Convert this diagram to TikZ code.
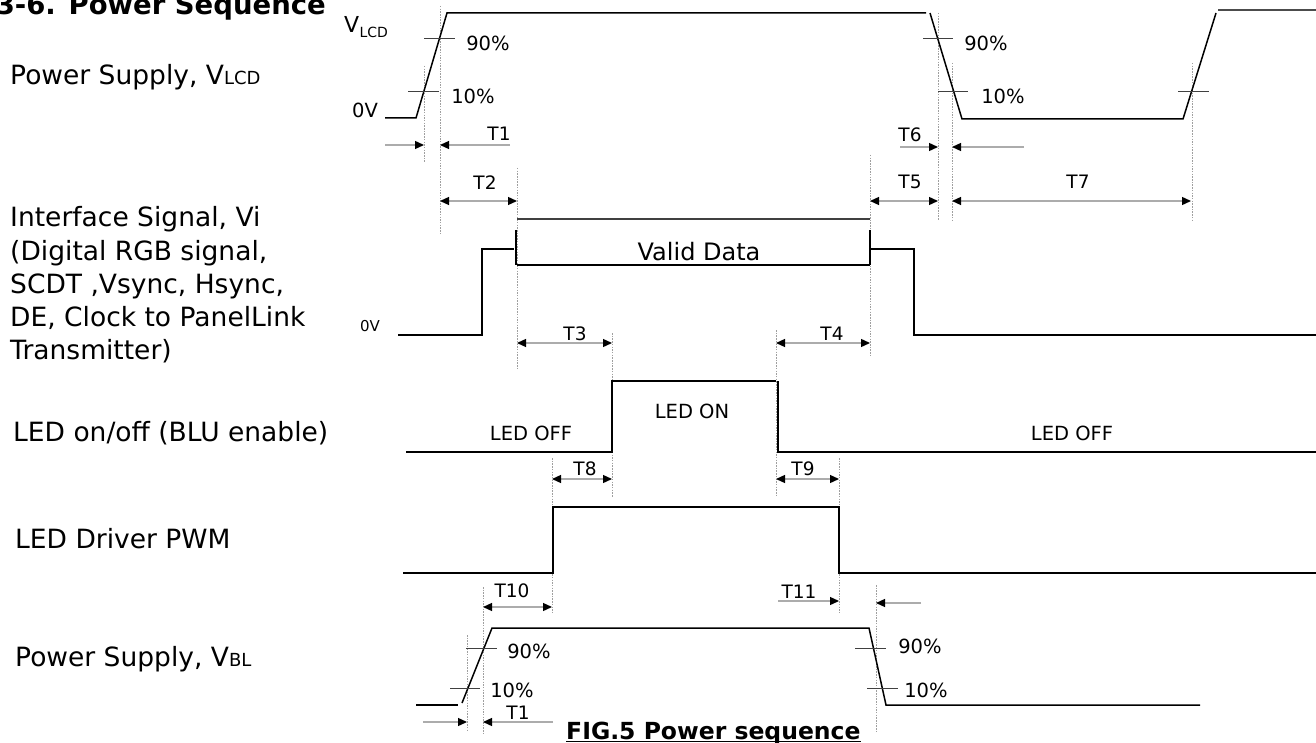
\documentclass[tikz,border=0pt]{standalone}
\usepackage{fontspec}
\setmainfont{DejaVu Sans}
\usetikzlibrary{arrows.meta}
\begin{document}
\begin{tikzpicture}[x=1pt,y=-1pt,
  sig/.style={line width=1.5pt,black,line join=miter},
  guide/.style={gray!75,line width=0.8pt,dash pattern=on 1.5pt off 1.2pt},
  tick/.style={line width=1pt,black!75},
  dim/.style={line width=1.3pt,gray!65},
  >={Triangle[length=9pt,width=8pt,color=black]},
  lbl/.style={inner sep=0pt,font=\fontsize{26.5}{30}\selectfont},
  sm/.style={inner sep=0pt,font=\fontsize{19.5}{24}\selectfont},
  tl/.style={inner sep=0pt,font=\fontsize{18.5}{22}\selectfont}]
\useasboundingbox (0,0) rectangle (1316,743);

% title
\node[anchor=base east,inner sep=0pt,font=\bfseries\fontsize{27.5}{31}\selectfont] (title) at (326,15) {3-6. Power Sequence};

% left labels
\node[lbl,anchor=base west] (lvlcd) at (10,85) {Power Supply, V{\fontsize{18}{20}\selectfont LCD}};
\node[lbl,anchor=base west] (lvi1) at (10,227) {Interface Signal, Vi};
\node[lbl,anchor=base west] (lvi2) at (10,260) {(Digital RGB signal,};
\node[lbl,anchor=base west] (lvi3) at (10,293) {SCDT ,Vsync, Hsync,};
\node[lbl,anchor=base west] (lvi4) at (10,326) {DE, Clock to PanelLink};
\node[lbl,anchor=base west] (lvi5) at (10,359) {Transmitter)};
\node[lbl,anchor=base west] (lled) at (13,441) {LED on/off (BLU enable)};
\node[lbl,anchor=base west] (lpwm) at (15,548) {LED Driver PWM};
\node[lbl,anchor=base west] (lvbl) at (15,666) {Power Supply, V{\fontsize{18}{20}\selectfont BL}};

% guide lines
\draw[guide] (424,66) -- (424,163);
\draw[guide] (440,6) -- (440,235);
\draw[guide] (517,168) -- (517,370);
\draw[guide] (612,333) -- (612,497);
\draw[guide] (552,458) -- (552,613);
\draw[guide] (776,330) -- (776,497);
\draw[guide] (839,458) -- (839,613);
\draw[guide] (870,155) -- (870,357);
\draw[guide] (938,13) -- (938,220);
\draw[guide] (952,63) -- (952,220);
\draw[guide] (1192,63) -- (1192,220);
\draw[guide] (483,587) -- (483,735);
\draw[guide] (467,635) -- (467,732);
\draw[guide] (876,585) -- (876,732);

% VLCD waveform
\node[inner sep=0pt,anchor=base west,font=\fontsize{22}{26}\selectfont] (vlcd) at (344,33) {V};
\node[inner sep=0pt,anchor=base west,font=\fontsize{14}{17}\selectfont] (vlcds) at (vlcd.base east) [yshift=-5pt] {LCD};
\node[sm] (zv1) at (365,110) {0V};
\draw[sig] (385,118) -- (416,118) -- (447,13) -- (926,13);
\draw[sig] (930,13) -- (962,119) -- (1183,119) -- (1216,13);
\draw[sig,black!70] (1218,10) -- (1316,10);
\draw[tick] (424,39) -- (455,39);
\draw[tick] (408,92) -- (439,92);
\node[sm] (p90a) at (488,43) {90\%};
\node[sm] (p10a) at (473,96) {10\%};
\draw[tick] (923,39) -- (953,39);
\draw[tick] (938,92) -- (968,92);
\node[sm] (p90b) at (986,43) {90\%};
\node[sm] (p10b) at (1003,96) {10\%};
\draw[tick] (1178,92) -- (1209,92);

% T1 / T6
\draw[dim,->] (385,145) -- (424,145);
\draw[dim,->] (510,145) -- (440,145);
\node[tl,anchor=base] (t1) at (499,141) {T1};
\draw[dim,->] (900,147) -- (938,147);
\draw[dim,->] (1024,147) -- (952,147);
\node[tl,anchor=base] (t6) at (910,142) {T6};

% T2 T5 T7
\draw[dim,<->] (440,201) -- (517,201);
\node[tl] (t2) at (485,183) {T2};
\draw[dim,<->] (870,201) -- (938,201);
\node[tl] (t5) at (910,182) {T5};
\draw[dim,<->] (952,201) -- (1191,201);
\node[tl] (t7) at (1078,182) {T7};

% Interface signal
\node[inner sep=0pt,font=\fontsize{15}{18}\selectfont] (zv2) at (370,326) {0V};
\draw[sig] (398,335) -- (482,335) -- (482,249) -- (514,249);
\draw[sig] (516,230) -- (516,265);
\draw[sig,black!75] (517,219) -- (870,219);
\draw[sig] (517,265) -- (870,265);
\draw[sig] (870,230) -- (870,265);
\draw[sig] (870,249) -- (914,249) -- (914,335) -- (1316,335);
\node[inner sep=0pt,anchor=base,font=\fontsize{24}{28}\selectfont] (vd) at (699,260) {Valid Data};

% T3 T4
\draw[dim,<->] (517,343) -- (612,343);
\node[tl] (t3) at (575,334) {T3};
\draw[dim,<->] (776,343) -- (870,343);
\node[tl] (t4) at (832,334) {T4};

% LED on/off
\draw[sig] (406,452) -- (612,452) -- (612,381) -- (776,381);
\draw[sig] (778,381) -- (778,452) -- (1316,452);
\node[sm,anchor=base] (off1) at (531,440) {LED OFF};
\node[sm,anchor=base] (on1) at (692,418) {LED ON};
\node[sm,anchor=base] (off2) at (1072,440) {LED OFF};

% T8 T9
\draw[dim,<->] (552,479) -- (612,479);
\node[tl] (t8) at (585,469) {T8};
\draw[dim,<->] (776,479) -- (839,479);
\node[tl] (t9) at (803,469) {T9};

% PWM
\draw[sig] (403,573) -- (553,573) -- (553,507) -- (839,507) -- (839,573) -- (1316,573);

% T10 T11
\draw[dim,<->] (483,607) -- (552,607);
\node[tl] (t10) at (512,591) {T10};
\draw[dim,->] (778,601) -- (839,601);
\node[tl,anchor=base] (t11) at (799,598) {T11};
\draw[dim,->] (921,603) -- (876,603);

% VBL
\draw[sig] (416,705) -- (458,705);
\draw[sig] (462,703) -- (492,628) -- (869,628) -- (886,705) -- (1200,705);
\draw[tick] (466,648) -- (497,648);
\draw[tick] (450,688) -- (480,688);
\node[sm] (p90c) at (529,651) {90\%};
\node[sm] (p10c) at (512,690) {10\%};
\draw[tick] (855,648) -- (886,648);
\draw[tick] (867,688) -- (898,688);
\node[sm] (p90d) at (920,646) {90\%};
\node[sm] (p10d) at (926,690) {10\%};

% T1 bottom
\draw[dim,->] (423,722) -- (467,722);
\draw[dim,->] (553,722) -- (483,722);
\node[tl,anchor=base] (t1b) at (518,719) {T1};

% caption
\node[anchor=base west,inner sep=0pt,font=\bfseries\fontsize{23.5}{26}\selectfont] (fig) at (566,739) {FIG.5 Power sequence};
\draw[line width=1.2pt] ([yshift=-2.5pt]fig.base west) -- ([yshift=-2.5pt]fig.base east);
\end{tikzpicture}
\end{document}
